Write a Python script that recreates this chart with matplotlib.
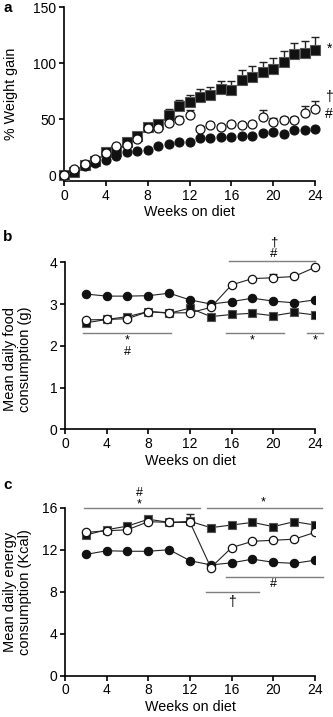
import numpy as np
import matplotlib
matplotlib.use("Agg")
import matplotlib.pyplot as plt

plt.rcParams['font.family'] = ['Liberation Sans', 'DejaVu Sans']
plt.rcParams['font.size'] = 10

# ---------------- data ----------------
weeks_a = list(range(0, 25))
a_square = [0, 3, 9, 13, 21, 22, 30, 35, 43, 46, 54, 62, 65, 70, 72, 77, 76, 85, 88, 92, 95, 101, 108, 109, 112]
a_square_err = [0, 1, 1, 2, 2, 2, 2, 2, 3, 3, 5, 5, 7, 7, 7, 7, 8, 9, 9, 9, 10, 10, 10, 11, 11]
a_open = [0, 6, 10, 15, 20, 26, 27, 32, 42, 42, 47, 49, 54, 41, 45, 43, 46, 45, 46, 52, 48, 49, 49, 56, 59]
a_open_err = [0, 1, 1, 1, 1, 1, 1, 1, 2, 2, 2, 4, 4, 3, 2, 2, 2, 2, 2, 6, 3, 3, 3, 6, 7]
a_filled = [0, 4, 8, 11, 14, 17, 21, 22, 23, 26, 28, 30, 30, 33, 33, 34, 34, 35, 35, 38, 39, 37, 40, 40, 41]

weeks_bc = [2, 4, 6, 8, 10, 12, 14, 16, 18, 20, 22, 24]
b_filled = [3.24, 3.19, 3.19, 3.20, 3.26, 3.10, 3.00, 3.06, 3.14, 3.07, 3.03, 3.10]
b_square = [2.55, 2.63, 2.70, 2.82, 2.78, 2.90, 2.70, 2.75, 2.78, 2.72, 2.80, 2.74]
b_open = [2.62, 2.63, 2.65, 2.82, 2.79, 2.79, 2.92, 3.46, 3.61, 3.63, 3.66, 3.88]
b_open_err = [0, 0, 0, 0, 0, 0, 0, 0, 0, 0.08, 0.06, 0]

c_square = [13.4, 13.9, 14.25, 14.9, 14.6, 14.7, 14.1, 14.35, 14.6, 14.2, 14.67, 14.35]
c_open = [13.65, 13.8, 13.9, 14.67, 14.6, 14.6, 10.3, 12.2, 12.8, 12.9, 13.0, 13.65]
c_open_err = [0, 0, 0, 0, 0, 0.8, 0, 0, 0, 0, 0, 0]
c_filled = [11.55, 11.9, 11.85, 11.85, 12.0, 10.95, 10.55, 10.75, 11.1, 10.8, 10.7, 11.0]

xticks = [0, 4, 8, 12, 16, 20, 24]

W, H = 333, 717
fig = plt.figure(figsize=(W / 100, H / 100), dpi=100)

GRAY = '#7f7f7f'
FS = 10

def style(ax):
    for s in ['top', 'right']:
        ax.spines[s].set_visible(False)
    for s in ['left', 'bottom']:
        ax.spines[s].set_linewidth(1.2)
    ax.tick_params(direction='out', length=3.5, width=1.2, labelsize=FS, pad=2)
    ax.set_xticks(xticks)
    ax.set_xlim(0, 24)

def frac(x0, y0, x1, y1):
    return [x0 / W, 1 - y1 / H, (x1 - x0) / W, (y1 - y0) / H]

# ---------------- panel a ----------------
axa = fig.add_axes(frac(64, 7, 315, 181))
style(axa)
axa.set_ylim(-5, 150)
axa.set_yticks([0, 50, 100, 150])
ms_a = 6.5
axa.errorbar(weeks_a, a_square, yerr=[np.zeros(25), a_square_err], fmt='none',
             ecolor='#222222', elinewidth=1, capsize=3, capthick=1, zorder=1, clip_on=False)
axa.errorbar(weeks_a, a_open, yerr=[np.zeros(25), a_open_err], fmt='none',
             ecolor='#222222', elinewidth=1, capsize=3, capthick=1, zorder=1, clip_on=False)
axa.plot(weeks_a, a_square, 's', ms=ms_a, mfc='#111111', mec='#555555', mew=0.8, zorder=3, clip_on=False)
axa.plot(weeks_a, a_filled, 'o', ms=ms_a, mfc='#111111', mec='#111111', mew=0.8, zorder=4, clip_on=False)
axa.plot(weeks_a, a_open, 'o', ms=ms_a, mfc='white', mec='#111111', mew=0.9, zorder=5, clip_on=False)
axa.set_ylabel('% Weight gain', fontsize=10.3)
axa.yaxis.set_label_coords(-0.183, 0.5)
axa.set_xlabel('Weeks on diet', fontsize=10.3, labelpad=2)
axa.text(25.4, 113, '*', fontsize=10, ha='center', va='center', clip_on=False)
axa.text(25.3, 70, '†', fontsize=10, ha='center', va='center', clip_on=False)
axa.text(25.3, 55, '#', fontsize=10, ha='center', va='center', clip_on=False)

# ---------------- panel b ----------------
ms_b = 6.0
axb = fig.add_axes(frac(65, 262.3, 315, 429.3))
style(axb)
axb.set_ylim(0, 4)
axb.set_yticks([0, 1, 2, 3, 4])
axb.errorbar(weeks_bc, b_open, yerr=[np.zeros(12), b_open_err], fmt='none',
             ecolor='#222222', elinewidth=1, capsize=3, capthick=1, zorder=1)
axb.plot(weeks_bc, b_square, '-s', color='#222222', lw=0.8, ms=ms_b, mfc='#111111', mec='#555555', mew=0.8, zorder=3)
axb.plot(weeks_bc, b_filled, '-o', color='#222222', lw=0.8, ms=ms_b, mfc='#111111', mec='#111111', mew=0.8, zorder=4)
axb.plot(weeks_bc, b_open, '-o', color='#222222', lw=0.8, ms=ms_b, mfc='white', mec='#111111', mew=0.9, zorder=5, clip_on=False)
axb.set_ylabel('Mean daily food\nconsumption (g)', fontsize=10.5, linespacing=1.1)
axb.yaxis.set_label_coords(-0.132, 0.42)
axb.set_xlabel('Weeks on diet', fontsize=10.3, labelpad=2)
# significance annotations
axb.plot([1.7, 10.2], [2.31, 2.31], color=GRAY, lw=1, clip_on=False)
axb.text(6, 2.27, '*\n#', fontsize=9, ha='center', va='top', linespacing=0.95)
axb.plot([15.5, 21.0], [2.31, 2.31], color=GRAY, lw=1, clip_on=False)
axb.text(18, 2.12, '*', fontsize=9, ha='center', va='center')
axb.plot([23.2, 24.8], [2.31, 2.31], color=GRAY, lw=1, clip_on=False)
axb.text(24, 2.12, '*', fontsize=9, ha='center', va='center')
axb.plot([15.7, 24.0], [4.04, 4.04], color=GRAY, lw=1, clip_on=False)
axb.text(20, 4.06, '†\n#', fontsize=9.5, ha='center', va='bottom', linespacing=0.95, clip_on=False)

# ---------------- panel c ----------------
axc = fig.add_axes(frac(65, 507.7, 315, 675.7))
style(axc)
axc.set_ylim(0, 16)
axc.set_yticks([0, 4, 8, 12, 16])
axc.errorbar(weeks_bc, c_open, yerr=[np.zeros(12), c_open_err], fmt='none',
             ecolor='#222222', elinewidth=1, capsize=3, capthick=1, zorder=1)
axc.plot(weeks_bc, c_square, '-s', color='#222222', lw=0.8, ms=ms_b, mfc='#111111', mec='#555555', mew=0.8, zorder=3)
axc.plot(weeks_bc, c_filled, '-o', color='#222222', lw=0.8, ms=ms_b, mfc='#111111', mec='#111111', mew=0.8, zorder=4)
axc.plot(weeks_bc, c_open, '-o', color='#222222', lw=0.8, ms=ms_b, mfc='white', mec='#111111', mew=0.9, zorder=5)
axc.set_ylabel('Mean daily energy\nconsumption (Kcal)', fontsize=10.5, linespacing=1.1)
axc.yaxis.set_label_coords(-0.132, 0.5)
axc.set_xlabel('Weeks on diet', fontsize=10.3, labelpad=2)
axc.plot([1.8, 13.0], [16.0, 16.0], color=GRAY, lw=1, clip_on=False)
axc.text(7.15, 15.7, '#\n*', fontsize=9, ha='center', va='bottom', linespacing=0.95, clip_on=False)
axc.plot([13.6, 24.7], [16.0, 16.0], color=GRAY, lw=1, clip_on=False)
axc.text(19, 16.5, '*', fontsize=9, ha='center', va='center', clip_on=False)
axc.plot([15.5, 24.8], [9.43, 9.43], color=GRAY, lw=1, clip_on=False)
axc.text(20, 8.75, '#', fontsize=9, ha='center', va='center')
axc.plot([13.5, 18.6], [7.94, 7.94], color=GRAY, lw=1, clip_on=False)
axc.text(16, 7.05, '†', fontsize=10, ha='center', va='center')

# panel letters
fig.text(3 / W, 1 - 8 / H, 'a', fontsize=11, fontweight='bold', va='center', ha='left')
fig.text(3 / W, 1 - 237 / H, 'b', fontsize=11, fontweight='bold', va='center', ha='left')
fig.text(3 / W, 1 - 485 / H, 'c', fontsize=11, fontweight='bold', va='center', ha='left')

fig.savefig('out.png', dpi=100)
